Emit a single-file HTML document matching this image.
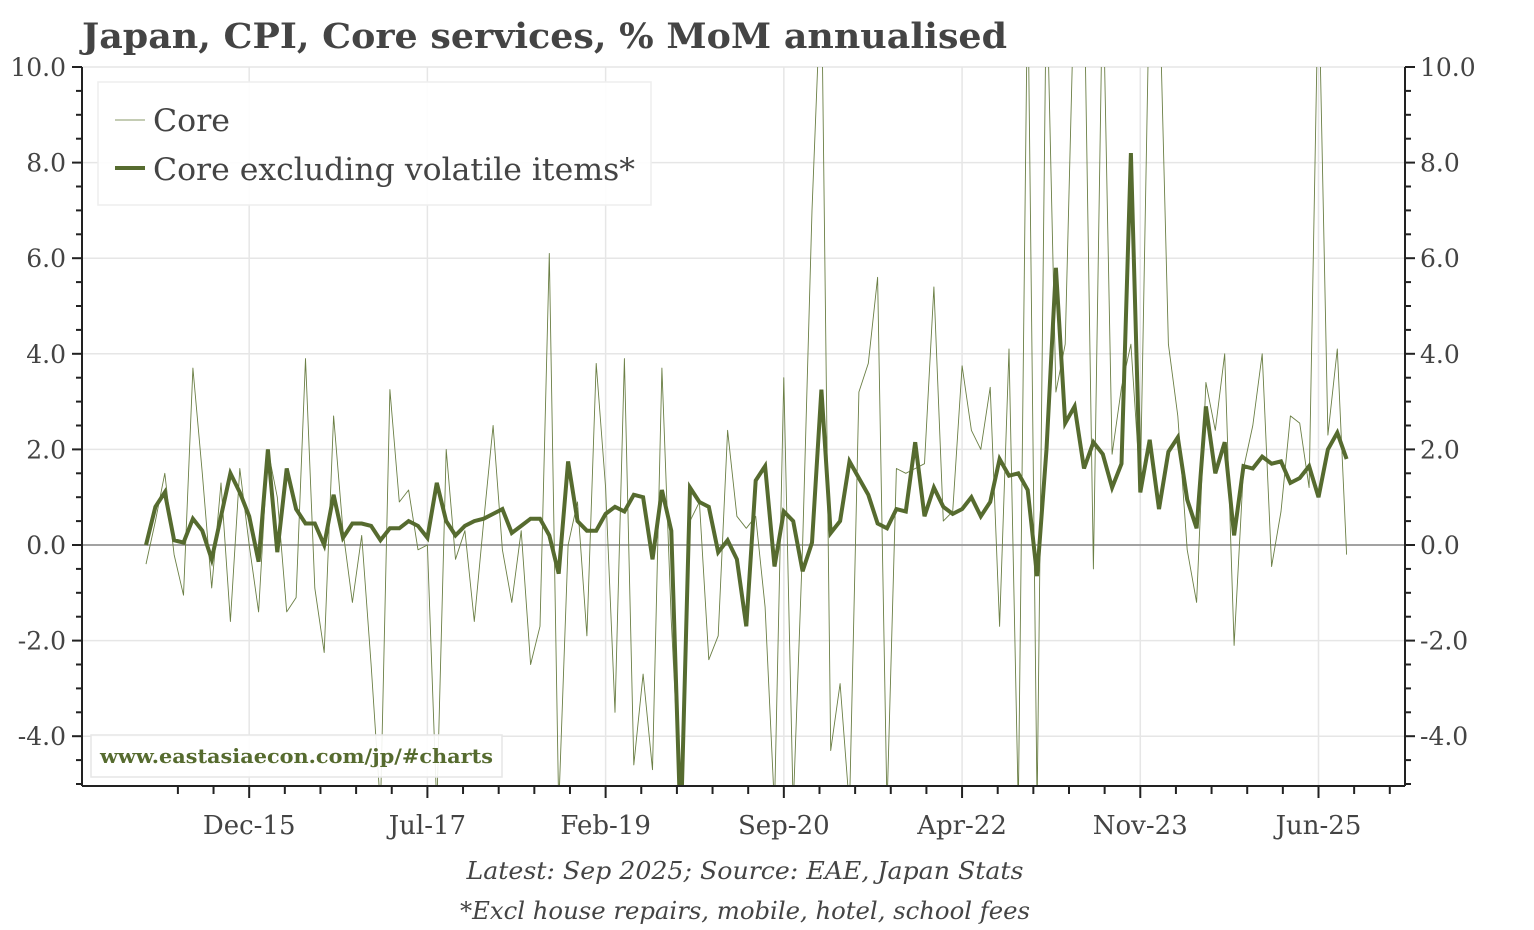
<!DOCTYPE html>
<html><head><meta charset="utf-8"><style>
html,body{margin:0;padding:0;background:#fff;}
svg{display:block;font-family:"DejaVu Serif","Liberation Serif",serif;}
</style></head><body>
<svg id="chart" width="1534" height="930" xmlns="http://www.w3.org/2000/svg">
<defs><clipPath id="clip"><rect x="82" y="67" width="1323" height="719"/></clipPath></defs>
<text x="82" y="48" font-size="35" font-weight="bold" fill="#444" textLength="925" lengthAdjust="spacingAndGlyphs">Japan, CPI, Core services, % MoM annualised</text>
<g id="grid"></g>
<g id="series" clip-path="url(#clip)"></g>
<g id="axes"></g>
<g>
<rect x="98" y="82" width="553" height="123" fill="#fff" fill-opacity="0.9" stroke="#eee" stroke-width="1.5"/>
<line x1="115" y1="120" x2="145" y2="120" stroke="#8a9a6a" stroke-width="1"/>
<text x="153" y="131" font-size="31" fill="#444" textLength="77" lengthAdjust="spacingAndGlyphs">Core</text>
<line x1="115" y1="168" x2="145" y2="168" stroke="#566b2f" stroke-width="4"/>
<text x="153" y="180" font-size="31" fill="#444" textLength="482" lengthAdjust="spacingAndGlyphs">Core excluding volatile items*</text>
</g>
<g>
<rect x="91" y="735" width="411" height="42" fill="#fff" fill-opacity="0.9" stroke="#e6e6e6" stroke-width="1.5"/>
<text x="100" y="763" font-size="20" font-weight="bold" fill="#566b2f" textLength="393" lengthAdjust="spacingAndGlyphs">www.eastasiaecon.com/jp/#charts</text>
</g>
<text x="745" y="879" font-size="24" font-style="italic" fill="#444" text-anchor="middle" textLength="557" lengthAdjust="spacingAndGlyphs">Latest: Sep 2025; Source: EAE, Japan Stats</text>
<text x="745" y="919" font-size="24" font-style="italic" fill="#444" text-anchor="middle" textLength="570" lengthAdjust="spacingAndGlyphs">*Excl house repairs, mobile, hotel, school fees</text>
</svg>
<script>
const startYear = 2015;
const startMonth = 0;
const coreValues = [-0.4,0.5,1.5,-0.2,-1.05,3.7,1.5,-0.9,1.3,-1.6,1.6,0.0,-1.4,2.0,1.0,-1.4,-1.1,3.9,-0.9,-2.25,2.7,0.3,-1.2,0.2,-2.5,-5.5,3.25,0.9,1.15,-0.1,0.0,-5.5,2.0,-0.3,0.3,-1.6,0.5,2.5,-0.1,-1.2,0.3,-2.5,-1.7,6.1,-5.5,0.0,0.9,-1.9,3.8,1.2,-3.5,3.9,-4.6,-2.7,-4.7,3.7,-1.6,-5.5,0.5,0.9,-2.4,-1.9,2.4,0.6,0.35,0.6,-1.3,-5.5,3.5,-5.5,0.0,7.0,12,-4.3,-2.9,-5.5,3.2,3.8,5.6,-5.5,1.6,1.5,1.6,1.7,5.4,0.5,0.7,3.75,2.4,2.0,3.3,-1.7,4.1,-5.5,12,-5.5,12,3.2,4.2,12,12,-0.5,12,1.9,3.3,4.2,1.2,12,12,4.2,2.7,-0.1,-1.2,3.4,2.4,4.0,-2.1,1.6,2.5,4.0,-0.45,0.7,2.7,2.55,1.2,12,2.3,4.1,-0.2];
const coreExValues = [0.0,0.8,1.1,0.1,0.05,0.55,0.3,-0.3,0.6,1.5,1.1,0.6,-0.35,2.0,-0.15,1.6,0.75,0.45,0.45,0.0,1.05,0.15,0.45,0.45,0.4,0.1,0.35,0.35,0.5,0.4,0.15,1.3,0.5,0.2,0.4,0.5,0.55,0.65,0.75,0.25,0.4,0.55,0.55,0.2,-0.6,1.75,0.5,0.3,0.3,0.65,0.8,0.7,1.05,1.0,-0.3,1.15,0.3,-6,1.2,0.9,0.8,-0.15,0.1,-0.3,-1.7,1.35,1.65,-0.45,0.7,0.5,-0.55,0.05,3.25,0.25,0.5,1.75,1.4,1.05,0.45,0.35,0.75,0.7,2.15,0.6,1.2,0.8,0.65,0.75,1.0,0.6,0.9,1.8,1.45,1.5,1.15,-0.65,2.0,5.8,2.55,2.9,1.6,2.15,1.9,1.2,1.7,8.2,1.1,2.2,0.75,1.95,2.25,0.95,0.35,2.9,1.5,2.15,0.2,1.65,1.6,1.85,1.7,1.75,1.3,1.4,1.65,1.0,2.0,2.35,1.8];
const yTicks = [-4,-2,0,2,4,6,8,10];
const xTickLabels = ["Dec-15","Jul-17","Feb-19","Sep-20","Apr-22","Nov-23","Jun-25"];
const xTickMonths = [11,30,49,68,87,106,125];

const NS="http://www.w3.org/2000/svg";
const L=82,R=1405,T=67,B=786;
const yMin=-5,yMax=10;
const y0=545,pxPerUnit=47.8;
function yPos(v){return y0-v*pxPerUnit;}
const x0=146,pxPerMonth=9.38;
function xPos(i){return x0+i*pxPerMonth;}
function mk(tag,attrs,parent){const e=document.createElementNS(NS,tag);for(const k in attrs)e.setAttribute(k,attrs[k]);parent.appendChild(e);return e;}
const grid=document.getElementById('grid'),axes=document.getElementById('axes'),series=document.getElementById('series');
yTicks.forEach(v=>{
  const g=mk('line',{x1:L,x2:R,y1:yPos(v),y2:yPos(v),stroke:'#e6e6e6','stroke-width':1.5},grid);
  
  
});
xTickMonths.forEach(m=>{
  const g=mk('line',{x1:xPos(m),x2:xPos(m),y1:T,y2:B,stroke:'#e6e6e6','stroke-width':1.5},grid);
  
  
});
const z=mk('line',{x1:L,x2:R,y1:yPos(0),y2:yPos(0),stroke:'#888','stroke-width':1.5},grid);


function pathFor(arr){return arr.map((v,i)=>(i?'L':'M')+xPos(i).toFixed(1)+' '+yPos(v).toFixed(1)).join(' ');}
const p1=mk('path',{d:pathFor(coreValues),fill:'none',stroke:'#6b7f45','stroke-width':0.9,'stroke-linejoin':'round'},series);


const p2=mk('path',{d:pathFor(coreExValues),fill:'none',stroke:'#566b2f','stroke-width':4,'stroke-linejoin':'miter'},series);


mk('line',{x1:L,x2:L,y1:T,y2:B,stroke:'#222','stroke-width':2},axes);
mk('line',{x1:R,x2:R,y1:T,y2:B,stroke:'#222','stroke-width':2},axes);
mk('line',{x1:L,x2:R,y1:B,y2:B,stroke:'#222','stroke-width':2},axes);
for(let v=yMin;v<=yMax+0.001;v+=0.5){
  const major=Math.abs(v-Math.round(v/2)*2)<0.001;
  const len=major?10:6;
  mk('line',{x1:L-len,x2:L,y1:yPos(v),y2:yPos(v),stroke:'#222','stroke-width':2},axes);
  mk('line',{x1:R,x2:R+len,y1:yPos(v),y2:yPos(v),stroke:'#222','stroke-width':2},axes);
}
yTicks.forEach(v=>{
  const t1=mk('text',{x:66,y:yPos(v)+9,'font-size':25,fill:'#444','text-anchor':'end'},axes);
  t1.textContent=v.toFixed(1);
  
  
  const t2=mk('text',{x:1420,y:yPos(v)+9,'font-size':25,fill:'#444'},axes);
  t2.textContent=v.toFixed(1);
  
  
});
const step=(xTickMonths[1]-xTickMonths[0])/5;
for(let k=-2;k<=37;k++){
  const m=xTickMonths[0]+k*step;const x=xPos(m);
  if(x<L+5||x>R-5)continue;
  const major=k%5===0;
  mk('line',{x1:x,x2:x,y1:B,y2:B+(major?12:8),stroke:'#222','stroke-width':2},axes);
}
xTickLabels.forEach((lab,i)=>{
  const t=mk('text',{x:xPos(xTickMonths[i]),y:834,'font-size':26,fill:'#444','text-anchor':'middle'},axes);
  t.textContent=lab;
  
  
});
</script>
</body></html>
